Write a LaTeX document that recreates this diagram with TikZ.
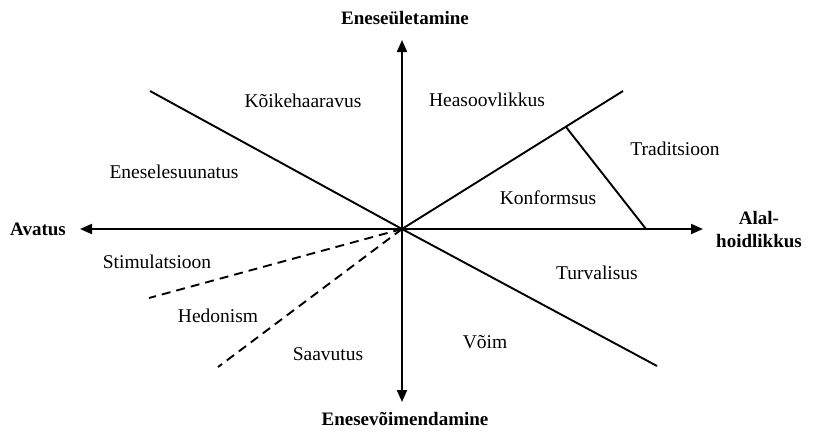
\documentclass[tikz,border=0pt]{standalone}
\usepackage{fontspec}
\setmainfont{Liberation Serif}
\usetikzlibrary{arrows.meta}
\begin{document}
\begin{tikzpicture}[x=1pt,y=-1pt,
  lbl/.style={font=\fontsize{19.5}{21}\selectfont, inner sep=0pt},
  axlbl/.style={font=\fontsize{19}{23}\selectfont\bfseries, inner sep=0pt, align=center},
  axis/.style={line width=2pt, -{Triangle[length=12pt,width=10pt]}},
  bound/.style={line width=1.9pt},
  dbound/.style={line width=1.9pt, dash pattern=on 9pt off 6pt}]
\useasboundingbox (0,0) rectangle (814,432);
\coordinate (o) at (402,229);
\coordinate (L) at (80,229);
\coordinate (R) at (703,229);
\coordinate (T) at (402,40);
\coordinate (B) at (402,402);
\draw[axis] (o) -- (L);
\draw[axis] (o) -- (R);
\draw[axis] (o) -- (T);
\draw[axis] (o) -- (B);
\coordinate (ul) at (150,91);
\coordinate (ur) at (623,91);
\coordinate (tk) at (566,127);
\coordinate (tb) at (646,229);
\coordinate (lr) at (657,366);
\coordinate (d1) at (149,298);
\coordinate (d2) at (218,367);
\draw[bound] (o) -- (ul);
\draw[bound] (o) -- (ur);
\draw[bound] (tk) -- (tb);
\draw[bound] (o) -- (lr);
\draw[dbound] (o) -- (d1);
\draw[dbound] (o) -- (d2);
\node[axlbl] (avatus) at (38,229) {Avatus};
\node[axlbl] (alal) at (759,230) {Alal-\\hoidlikkus};
\node[axlbl] (ylet) at (405,18) {Eneseületamine};
\node[axlbl] (voim) at (405,419) {Enesevõimendamine};
\node[lbl] (k1) at (303,101) {Kõikehaaravus};
\node[lbl] (k2) at (487,100) {Heasoovlikkus};
\node[lbl] (k3) at (174,172) {Eneselesuunatus};
\node[lbl] (k4) at (675,149) {Traditsioon};
\node[lbl] (k5) at (548,198) {Konformsus};
\node[lbl] (k6) at (157,262) {Stimulatsioon};
\node[lbl] (k7) at (218,316) {Hedonism};
\node[lbl] (k8) at (328,354) {Saavutus};
\node[lbl] (k9) at (485,342) {Võim};
\node[lbl] (k10) at (597,273) {Turvalisus};
\end{tikzpicture}
\end{document}
